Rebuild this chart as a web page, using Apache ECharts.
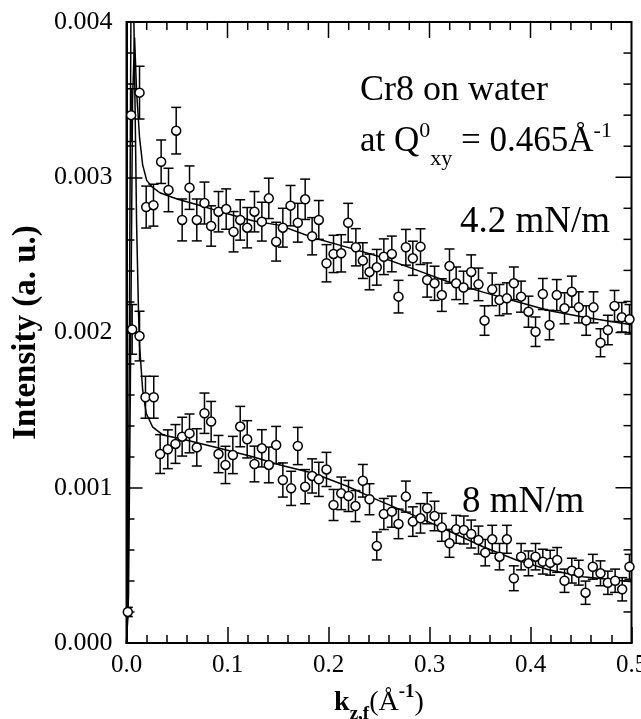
<!DOCTYPE html>
<html><head><meta charset="utf-8">
<script src="https://cdn.jsdelivr.net/npm/echarts@6/dist/echarts.min.js"></script>
<style>html,body{margin:0;padding:0;background:#fff}#c{width:641px;height:719px}</style>
</head><body><div id="c"></div>
<script>
// ---- data ----
const upperX = [0.0046,0.0129,0.0195,0.0267,0.0343,0.0416,0.0492,0.0551,0.0624,0.0696,0.0772,0.0838,0.0911,0.0987,0.106,0.1126,0.1195,0.1267,0.134,0.1409,0.1482,0.1548,0.1624,0.1696,0.1769,0.1838,0.1904,0.198,0.205,0.2126,0.2195,0.2271,0.234,0.2406,0.2478,0.2548,0.2627,0.2693,0.2766,0.2835,0.2911,0.2977,0.305,0.3122,0.3198,0.3264,0.3337,0.3413,0.3485,0.3545,0.3621,0.3693,0.3766,0.3835,0.3907,0.398,0.405,0.4122,0.4188,0.426,0.4337,0.4409,0.4478,0.4551,0.4624,0.4693,0.4766,0.4832,0.4904,0.498];
const upperY = [3.40e-3,3.545e-3,2.808e-3,2.82e-3,3.10e-3,2.918e-3,3.30e-3,2.725e-3,2.933e-3,2.725e-3,2.834e-3,2.686e-3,2.778e-3,2.795e-3,2.649e-3,2.725e-3,2.675e-3,2.778e-3,2.714e-3,2.864e-3,2.585e-3,2.675e-3,2.817e-3,2.707e-3,2.858e-3,2.62e-3,2.725e-3,2.446e-3,2.506e-3,2.51e-3,2.707e-3,2.549e-3,2.463e-3,2.39e-3,2.42e-3,2.488e-3,2.506e-3,2.231e-3,2.549e-3,2.478e-3,2.553e-3,2.338e-3,2.317e-3,2.241e-3,2.428e-3,2.317e-3,2.29e-3,2.39e-3,2.31e-3,2.077e-3,2.278e-3,2.209e-3,2.22e-3,2.317e-3,2.231e-3,2.134e-3,2.005e-3,2.248e-3,2.048e-3,2.241e-3,2.156e-3,2.263e-3,2.162e-3,2.077e-3,2.162e-3,1.934e-3,2.016e-3,2.171e-3,2.098e-3,2.085e-3];
const upperErr = [1.7e-4,1.7e-4,1.35e-4,1.35e-4,1.4e-4,1.4e-4,1.5e-4,1.35e-4,1.4e-4,1.35e-4,1.35e-4,1.3e-4,1.3e-4,1.3e-4,1.3e-4,1.3e-4,1.3e-4,1.3e-4,1.25e-4,1.3e-4,1.25e-4,1.25e-4,1.3e-4,1.25e-4,1.3e-4,1.2e-4,1.25e-4,1.2e-4,1.2e-4,1.2e-4,1.25e-4,1.2e-4,1.15e-4,1.15e-4,1.15e-4,1.15e-4,1.15e-4,1.05e-4,1.15e-4,1.1e-4,1.15e-4,1.1e-4,1.1e-4,1.05e-4,1.1e-4,1.05e-4,1.05e-4,1.1e-4,1.05e-4,0.95e-4,1.05e-4,1.0e-4,1.0e-4,1.05e-4,1.0e-4,1.0e-4,0.95e-4,1.0e-4,0.95e-4,1.0e-4,1.0e-4,1.0e-4,1.0e-4,0.95e-4,1.0e-4,0.9e-4,0.95e-4,1.0e-4,0.95e-4,0.95e-4];

const lowerX = [0.0013,0.0056,0.0129,0.0188,0.027,0.0333,0.0409,0.0485,0.0551,0.0624,0.0696,0.0772,0.0838,0.0911,0.098,0.1053,0.1126,0.1195,0.1267,0.134,0.1409,0.1482,0.1548,0.163,0.1696,0.1769,0.1838,0.1904,0.198,0.205,0.2126,0.2198,0.2267,0.234,0.2406,0.2478,0.2548,0.2627,0.2693,0.2766,0.2835,0.2911,0.2977,0.305,0.3122,0.3198,0.3264,0.334,0.3413,0.3485,0.3552,0.3621,0.3693,0.3766,0.3835,0.3907,0.398,0.405,0.4122,0.4195,0.4264,0.4337,0.4409,0.4478,0.4545,0.4617,0.4693,0.4766,0.4838,0.4908,0.498];
const lowerY = [0.20e-3,2.02e-3,1.977e-3,1.583e-3,1.583e-3,1.217e-3,1.248e-3,1.282e-3,1.329e-3,1.35e-3,1.26e-3,1.48e-3,1.426e-3,1.217e-3,1.147e-3,1.211e-3,1.394e-3,1.312e-3,1.153e-3,1.254e-3,1.147e-3,1.275e-3,1.05e-3,0.996e-3,1.269e-3,1.007e-3,1.076e-3,1.054e-3,1.118e-3,0.889e-3,0.964e-3,0.947e-3,0.882e-3,1.045e-3,0.926e-3,0.625e-3,0.831e-3,0.846e-3,0.767e-3,0.943e-3,0.782e-3,0.803e-3,0.868e-3,0.818e-3,0.745e-3,0.642e-3,0.732e-3,0.728e-3,0.702e-3,0.663e-3,0.582e-3,0.668e-3,0.556e-3,0.668e-3,0.417e-3,0.556e-3,0.513e-3,0.556e-3,0.524e-3,0.517e-3,0.535e-3,0.401e-3,0.466e-3,0.453e-3,0.324e-3,0.491e-3,0.449e-3,0.388e-3,0.401e-3,0.346e-3,0.491e-3];
const lowerErr = [0.3e-4,1.6e-4,1.6e-4,1.35e-4,1.35e-4,1.25e-4,1.25e-4,1.25e-4,1.25e-4,1.25e-4,1.2e-4,1.3e-4,1.3e-4,1.2e-4,1.2e-4,1.2e-4,1.3e-4,1.2e-4,1.15e-4,1.2e-4,1.15e-4,1.2e-4,1.1e-4,1.1e-4,1.2e-4,1.1e-4,1.1e-4,1.1e-4,1.1e-4,1.0e-4,1.05e-4,1.0e-4,1.0e-4,1.05e-4,1.0e-4,0.9e-4,1.0e-4,1.0e-4,0.95e-4,1.0e-4,0.95e-4,0.95e-4,1.0e-4,0.95e-4,0.9e-4,0.9e-4,0.9e-4,0.9e-4,0.9e-4,0.9e-4,0.85e-4,0.9e-4,0.85e-4,0.9e-4,0.8e-4,0.85e-4,0.8e-4,0.85e-4,0.8e-4,0.8e-4,0.8e-4,0.75e-4,0.8e-4,0.8e-4,0.75e-4,0.8e-4,0.8e-4,0.75e-4,0.75e-4,0.75e-4,0.8e-4];

const fitUpperX = [0,0.002,0.004,0.006,0.008,0.010,0.013,0.016,0.020,0.025,0.033,0.050,0.072,0.092,0.125,0.152,0.185,0.218,0.250,0.284,0.317,0.353,0.386,0.419,0.452,0.500];
const fitUpperY = [0,0.3e-3,1.8e-3,3.5e-3,3.9e-3,3.55e-3,3.25e-3,3.08e-3,2.98e-3,2.94e-3,2.90e-3,2.86e-3,2.82e-3,2.78e-3,2.72e-3,2.69e-3,2.61e-3,2.55e-3,2.49e-3,2.41e-3,2.33e-3,2.26e-3,2.20e-3,2.14e-3,2.10e-3,2.05e-3];
const fitLowerX = [0,0.0015,0.003,0.0045,0.006,0.008,0.010,0.012,0.013,0.016,0.0195,0.026,0.036,0.059,0.092,0.125,0.152,0.185,0.218,0.250,0.284,0.317,0.353,0.386,0.419,0.452,0.500];
const fitLowerY = [0,0.2e-3,2.2e-3,4.2e-3,4.6e-3,3.7e-3,2.7e-3,2.1e-3,1.91e-3,1.63e-3,1.48e-3,1.39e-3,1.34e-3,1.307e-3,1.254e-3,1.20e-3,1.147e-3,1.093e-3,1.011e-3,0.917e-3,0.824e-3,0.728e-3,0.62e-3,0.535e-3,0.47e-3,0.427e-3,0.395e-3];

const xMin = 0, xMax = 0.5, xStep = 0.1;
const yMin = 0, yMax = 0.004, yStep = 0.001;
// tick positions for the unlabeled top / right frame sides
const xMajorTicks = [0.1, 0.2, 0.3, 0.4];
const xMinorTicks = [0.02,0.04,0.06,0.08,0.12,0.14,0.16,0.18,0.22,0.24,0.26,0.28,0.32,0.34,0.36,0.38,0.42,0.44,0.46,0.48];
const yMajorTicks = [0.001, 0.002, 0.003];
const yMinorTicks = [0.0002,0.0004,0.0006,0.0008,0.0012,0.0014,0.0016,0.0018,0.0022,0.0024,0.0026,0.0028,0.0032,0.0034,0.0036,0.0038];

// ---- build ----
const zip = (a, b) => a.map((v, i) => [v, b[i]]);
const zip3 = (a, b, c) => a.map((v, i) => [v, b[i], c[i]]);
const FONT = '"Liberation Serif", "Times New Roman", serif';
const xMid = (xMin + xMax) / 2, yMid = (yMin + yMax) / 2;

function errRender(params, api) {
  const x = api.value(0), y = api.value(1), e = api.value(2);
  const hi = api.coord([x, y + e]), lo = api.coord([x, y - e]);
  const hw = 5;
  const st = { stroke: '#000', lineWidth: 1.5 };
  return { type: 'group', children: [
    { type: 'line', shape: { x1: hi[0], y1: hi[1], x2: lo[0], y2: lo[1] }, style: st },
    { type: 'line', shape: { x1: hi[0] - hw, y1: hi[1], x2: hi[0] + hw, y2: hi[1] }, style: st },
    { type: 'line', shape: { x1: lo[0] - hw, y1: lo[1], x2: lo[0] + hw, y2: lo[1] }, style: st }
  ]};
}

// inward ticks on the top and right sides of the frame
// kind: 0 x-major, 1 x-minor, 2 y-major, 3 y-minor
function mirrorTickRender(params, api) {
  const kind = api.value(2);
  const p0 = api.coord([xMin, yMin]), p1 = api.coord([xMax, yMax]);
  const st = { stroke: '#000', lineWidth: 1.5 };
  if (kind < 2) {
    const len = kind === 0 ? 16 : 8;
    const px = api.coord([api.value(0), yMid])[0];
    return { type: 'line', shape: { x1: px, y1: p1[1], x2: px, y2: p1[1] + len }, style: st };
  }
  const len = kind === 2 ? 16 : 8;
  const py = api.coord([xMid, api.value(1)])[1];
  return { type: 'line', shape: { x1: p1[0], y1: py, x2: p1[0] - len, y2: py }, style: st };
}
const mirrorTickData = [].concat(
  xMajorTicks.map(v => [v, yMid, 0]),
  xMinorTicks.map(v => [v, yMid, 1]),
  yMajorTicks.map(v => [xMid, v, 2]),
  yMinorTicks.map(v => [xMid, v, 3])
);

const chart = echarts.init(document.getElementById('c'), null, { renderer: 'canvas' });
chart.setOption({
  animation: false,
  backgroundColor: '#fff',
  grid: { left: 126.5, right: 9.5, top: 22, bottom: 76, outerBoundsMode: 'none',
          show: true, borderColor: '#000', borderWidth: 2, backgroundColor: 'rgba(0,0,0,0)' },
  xAxis: {
    type: 'value', min: xMin, max: xMax, interval: xStep, position: 'bottom',
    axisLine: { show: true, lineStyle: { color: '#000', width: 2 } },
    axisTick: { show: true, inside: true, length: 16, lineStyle: { color: '#000', width: 1.5 } },
    minorTick: { show: true, splitNumber: 5, length: 8, lineStyle: { color: '#000', width: 1.5 } },
    splitLine: { show: false },
    axisLabel: { formatter: v => v.toFixed(1), fontSize: 25, fontFamily: FONT, color: '#000', margin: 10 },
    name: '{b|k}{bs|z,f}{n|(Å}{sup|-1}{n|)}', nameLocation: 'middle', nameGap: 39,
    nameTextStyle: { rich: {
      b: { fontFamily: FONT, fontWeight: 'bold', fontSize: 28, color: '#000', lineHeight: 32, verticalAlign: 'middle' },
      bs: { fontFamily: FONT, fontWeight: 'bold', fontSize: 19, color: '#000', lineHeight: 19, verticalAlign: 'bottom', padding: [0,0,-5,0] },
      n: { fontFamily: FONT, fontSize: 28, color: '#000', lineHeight: 32, verticalAlign: 'middle' },
      sup: { fontFamily: FONT, fontWeight: 'bold', fontSize: 19, color: '#000', lineHeight: 19, verticalAlign: 'top', padding: [-4,0,0,0] }
    } }
  },
  yAxis: {
    type: 'value', min: yMin, max: yMax, interval: yStep, position: 'left',
    axisLine: { show: true, lineStyle: { color: '#000', width: 2 } },
    axisTick: { show: true, inside: true, length: 16, lineStyle: { color: '#000', width: 1.5 } },
    minorTick: { show: true, splitNumber: 5, length: 8, lineStyle: { color: '#000', width: 1.5 } },
    splitLine: { show: false },
    axisLabel: { formatter: v => v.toFixed(3), fontSize: 26, fontFamily: FONT, color: '#000', margin: 14 },
    name: 'Intensity (a. u.)', nameLocation: 'middle', nameRotate: 90, nameGap: 84,
    nameTextStyle: { fontFamily: FONT, fontWeight: 'bold', fontSize: 33, color: '#000' }
  },
  series: [
    { type: 'custom', name: 'err 4.2', renderItem: errRender, clip: true,
      encode: { x: 0, y: 1 }, data: zip3(upperX, upperY, upperErr), z: 2 },
    { type: 'custom', name: 'err 8', renderItem: errRender, clip: true,
      encode: { x: 0, y: 1 }, data: zip3(lowerX, lowerY, lowerErr), z: 2 },
    { type: 'line', name: 'fit 4.2', data: zip(fitUpperX, fitUpperY), showSymbol: false, symbol: 'none', clip: true,
      lineStyle: { color: '#000', width: 1.5 }, z: 3 },
    { type: 'line', name: 'fit 8', data: zip(fitLowerX, fitLowerY), showSymbol: false, symbol: 'none', clip: true,
      lineStyle: { color: '#000', width: 1.5 }, z: 3 },
    { type: 'scatter', name: '4.2 mN/m', data: zip(upperX, upperY), symbol: 'circle', symbolSize: 9,
      itemStyle: { color: '#fff', borderColor: '#000', borderWidth: 1.5, opacity: 1 }, z: 4 },
    { type: 'scatter', name: '8 mN/m', data: zip(lowerX, lowerY), symbol: 'circle', symbolSize: 9,
      itemStyle: { color: '#fff', borderColor: '#000', borderWidth: 1.5, opacity: 1 }, z: 4 },
    { type: 'custom', name: 'frame ticks', renderItem: mirrorTickRender, clip: false, silent: true,
      encode: { x: 0, y: 1 }, data: mirrorTickData, z: 5 }
  ],
  graphic: [
    { type: 'text', x: 360, y: 109, style: { text: 'Cr8 on water', font: '36px ' + FONT, fill: '#000', verticalAlign: 'bottom' } },
    { type: 'text', x: 360, y: 162, style: {
        text: '{n|at Q}{sup|0}{sub|xy}{n| = 0.465Å}{sup|-1}', verticalAlign: 'bottom',
        rich: {
          n: { fontFamily: FONT, fontSize: 35, color: '#000', lineHeight: 40, verticalAlign: 'middle' },
          sup: { fontFamily: FONT, fontSize: 22, color: '#000', lineHeight: 22, verticalAlign: 'top', padding: [-2,0,0,0] },
          sub: { fontFamily: FONT, fontSize: 22, color: '#000', lineHeight: 22, verticalAlign: 'bottom', padding: [0,0,-8,0] }
        } } },
    { type: 'text', x: 460, y: 241, style: { text: '4.2 mN/m', font: '37px ' + FONT, fill: '#000', verticalAlign: 'bottom' } },
    { type: 'text', x: 462, y: 521, style: { text: '8 mN/m', font: '37px ' + FONT, fill: '#000', verticalAlign: 'bottom' } }
  ]
});
</script>
</body></html>
